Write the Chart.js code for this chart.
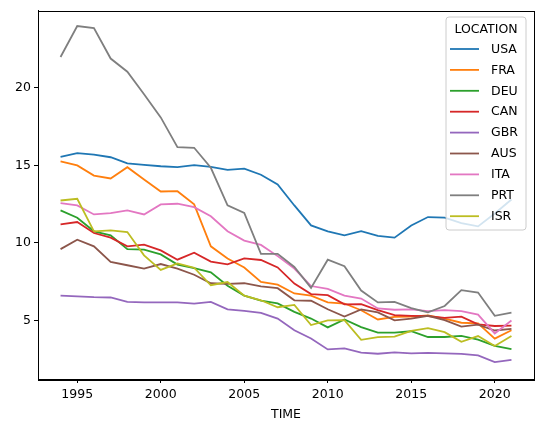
<!DOCTYPE html>
<html>
<head>
<meta charset="utf-8">
<script src="https://cdn.jsdelivr.net/npm/chart.js@4.4.0/dist/chart.umd.min.js"></script>
<style>
  html, body { margin: 0; padding: 0; background: #fff; }
  #wrap { width: 543px; height: 432px; }
</style>
</head>
<body>
<div id="wrap"><canvas id="lineChart"></canvas></div>
<script>
// years on the x axis
var years = [1994,1995,1996,1997,1998,1999,2000,2001,2002,2003,2004,2005,2006,2007,
             2008,2009,2010,2011,2012,2013,2014,2015,2016,2017,2018,2019,2020,2021];

var locations = ["USA", "FRA", "DEU", "CAN", "GBR", "AUS", "ITA", "PRT", "ISR"];

// values, one array per location
var usa = [15.55,15.79,15.70,15.53,15.14,15.04,14.95,14.89,15.02,14.91,14.72,14.80,14.40,13.77,
           12.42,11.13,10.75,10.49,10.76,10.45,10.34,11.13,11.67,11.63,11.28,11.07,11.90,12.80];
var fra = [15.27,15.00,14.35,14.16,14.89,14.10,13.32,13.34,12.49,9.78,9.00,8.41,7.48,7.31,
           6.74,6.60,6.16,6.09,5.66,5.06,5.23,5.24,5.32,5.11,4.85,4.81,3.83,4.37];
var deu = [12.10,11.63,10.75,10.49,9.60,9.57,9.26,8.60,8.38,8.10,7.24,6.60,6.28,6.10,
           5.55,5.12,4.55,5.06,4.57,4.21,4.21,4.30,3.93,3.93,4.00,3.76,3.36,3.15];
var can = [11.20,11.35,10.64,10.34,9.78,9.89,9.52,8.92,9.37,8.80,8.62,9.00,8.90,8.42,
           7.38,6.70,6.63,6.04,6.05,5.66,5.34,5.30,5.28,5.17,5.24,4.75,4.64,4.67];
var gbr = [6.60,6.55,6.50,6.48,6.20,6.16,6.16,6.16,6.09,6.20,5.71,5.62,5.49,5.12,
           4.37,3.83,3.13,3.19,2.92,2.85,2.94,2.87,2.91,2.87,2.84,2.74,2.31,2.45];
var aus = [9.60,10.21,9.78,8.77,8.56,8.34,8.64,8.34,7.95,7.40,7.36,7.40,7.20,7.08,
           6.30,6.27,5.72,5.25,5.71,5.52,5.00,5.12,5.30,5.02,4.60,4.73,4.35,4.45];
var ita = [12.57,12.42,11.84,11.93,12.10,11.84,12.49,12.53,12.31,11.72,10.76,10.15,9.87,9.15,
           8.35,7.22,7.03,6.60,6.41,5.77,5.69,5.71,5.60,5.66,5.60,5.38,4.16,5.00];
var prt = [22.00,24.00,23.86,21.90,21.05,19.60,18.10,16.18,16.14,14.85,12.42,11.94,9.30,9.30,
           8.45,7.10,8.92,8.50,6.93,6.16,6.20,5.80,5.52,5.93,6.95,6.80,5.30,5.50];
var isr = [12.74,12.85,10.75,10.81,10.70,9.20,8.26,8.68,8.40,7.27,7.48,6.60,6.30,5.85,
           6.00,4.70,5.00,5.02,3.75,3.92,3.96,4.33,4.50,4.24,3.62,3.99,3.35,3.99];

var seriesValues = [usa, fra, deu, can, gbr, aus, ita, prt, isr];

var xTicks = [1995, 2000, 2005, 2010, 2015, 2020];
var yTicks = [5, 10, 15, 20];

var lineColors = ["#1f77b4","#ff7f0e","#2ca02c","#d62728","#9467bd",
                  "#8c564b","#e377c2","#7f7f7f","#bcbd22"];

var FONT = "DejaVu Sans";

var datasets = locations.map(function (name, i) {
  return {
    label: name,
    data: years.map(function (yr, j) { return {x: yr, y: seriesValues[i][j]}; }),
    borderColor: lineColors[i],
    backgroundColor: lineColors[i],
    borderWidth: 1.8,
    pointRadius: 0,
    tension: 0,
    order: locations.length - i   // later series drawn on top, like matplotlib
  };
});

// box around the plot + legend in the upper right
var framePlugin = {
  id: "frameAndLegend",
  afterDraw: function (chart) {
    var ctx = chart.ctx;
    var a = chart.chartArea;
    ctx.save();
    ctx.strokeStyle = "#000";
    ctx.lineWidth = 1;
    ctx.strokeRect(Math.round(a.left) + 0.5, Math.round(a.top) + 0.5,
                   Math.round(a.right - a.left), Math.round(a.bottom - a.top));

    // legend
    var bx = 446, by = 17, bw = 80, bh = 213, r = 3;
    ctx.beginPath();
    ctx.moveTo(bx + r, by);
    ctx.arcTo(bx + bw, by, bx + bw, by + bh, r);
    ctx.arcTo(bx + bw, by + bh, bx, by + bh, r);
    ctx.arcTo(bx, by + bh, bx, by, r);
    ctx.arcTo(bx, by, bx + bw, by, r);
    ctx.closePath();
    ctx.fillStyle = "rgba(255,255,255,0.8)";
    ctx.fill();
    ctx.strokeStyle = "#cccccc";
    ctx.lineWidth = 1;
    ctx.stroke();

    ctx.font = "12.5px '" + FONT + "'";
    ctx.fillStyle = "#000";
    ctx.textBaseline = "middle";
    ctx.textAlign = "center";
    ctx.fillText("LOCATION", bx + bw / 2, 29.5);
    ctx.textAlign = "left";
    for (var i = 0; i < locations.length; i++) {
      var yy = 49 + i * 20.9;
      ctx.strokeStyle = lineColors[i];
      ctx.lineWidth = 1.8;
      ctx.beginPath();
      ctx.moveTo(450, yy);
      ctx.lineTo(479, yy);
      ctx.stroke();
      ctx.fillStyle = "#000";
      ctx.fillText(locations[i], 491, yy + 0.5);
    }
    ctx.restore();
  }
};

new Chart("lineChart", {
  type: "line",
  data: { datasets: datasets },
  options: {
    responsive: true,
    maintainAspectRatio: false,
    animation: false,
    layout: { padding: { left: 0, right: 9, top: 9, bottom: 0 } },
    plugins: {
      legend: { display: false },
      tooltip: { enabled: false }
    },
    scales: {
      x: {
        type: "linear",
        min: 1992.65,
        max: 2022.35,
        afterBuildTicks: function (scale) {
          scale.ticks = xTicks.map(function (v) { return {value: v}; });
        },
        afterFit: function (scale) { scale.height = 53; },
        ticks: {
          color: "#000",
          font: { family: FONT, size: 12.5 },
          padding: 4,
          maxRotation: 0,
          callback: function (v) { return String(v); }
        },
        grid: { display: true, drawOnChartArea: false, drawTicks: true,
                tickLength: 4, color: "#000" },
        border: { display: true, color: "#000", width: 1 },
        title: {
          display: true, text: "TIME", color: "#000",
          font: { family: FONT, size: 12.5 },
          padding: { top: 4, bottom: 10 }
        }
      },
      y: {
        type: "linear",
        min: 1.22,
        max: 25.0,
        afterBuildTicks: function (scale) {
          scale.ticks = yTicks.map(function (v) { return {value: v}; });
        },
        afterFit: function (scale) { scale.width = 38; },
        ticks: {
          color: "#000",
          font: { family: FONT, size: 12.5 },
          padding: 3,
          callback: function (v) { return String(v); }
        },
        grid: { display: true, drawOnChartArea: false, drawTicks: true,
                tickLength: 4, color: "#000" },
        border: { display: true, color: "#000", width: 1 }
      }
    }
  },
  plugins: [framePlugin]
});
</script>
</body>
</html>
